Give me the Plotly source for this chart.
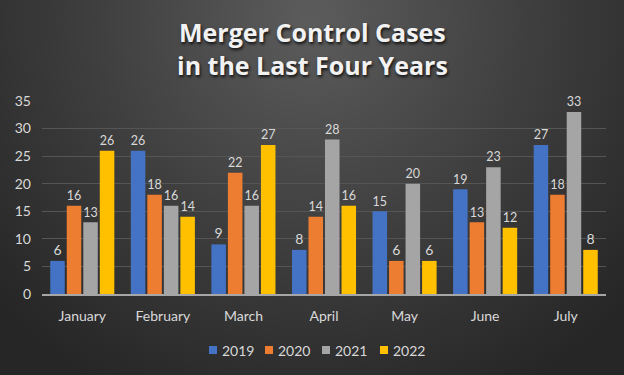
import base64
import plotly.graph_objects as go

months = ["January", "February", "March", "April", "May", "June", "July"]
years = ["2019", "2020", "2021", "2022"]
cases_2019 = [6, 26, 9, 8, 15, 19, 27]
cases_2020 = [16, 18, 22, 14, 6, 13, 18]
cases_2021 = [13, 16, 16, 28, 20, 23, 33]
cases_2022 = [26, 14, 27, 16, 6, 12, 8]
y_ticks = [0, 5, 10, 15, 20, 25, 30, 35]
title_lines = ["Merger Control Cases", "in the Last Four Years"]

series = [cases_2019, cases_2020, cases_2021, cases_2022]
colors = ["#4472C4", "#ED7D31", "#A5A5A5", "#FFC000"]

W, H = 624, 375
L, R, T, B = 42, 18, 101, 81
pw, ph = W - L - R, H - T - B


def py(px_from_top):
    return (H - B - px_from_top) / ph


svg = (
    '<svg xmlns="http://www.w3.org/2000/svg" width="624" height="375" viewBox="0 0 624 375" preserveAspectRatio="none">'
    '<defs><radialGradient id="g" cx="312" cy="20" r="420" gradientUnits="userSpaceOnUse">'
    '<stop offset="0" stop-color="#5c5c5c"/><stop offset="0.55" stop-color="#3d3d3d"/>'
    '<stop offset="1" stop-color="#262626"/></radialGradient></defs>'
    '<rect width="624" height="375" fill="url(#g)"/></svg>'
)
src = "data:image/svg+xml;base64," + base64.b64encode(svg.encode()).decode()

fig = go.Figure()
for name, vals, col in zip(years, series, colors):
    fig.add_trace(go.Bar(
        x=months, y=vals, name=name, marker=dict(color=col, line=dict(width=0)),
        text=vals, textposition="outside", cliponaxis=False,
        textfont=dict(color="#d9d9d9", size=14, family="Lato"),
        showlegend=False,
    ))

shapes = []
annotations = []

# title (two lines in one text)
annotations.append(dict(text="<b>" + "<br>".join(title_lines) + "</b>",
                        xref="paper", yref="paper",
                        x=(W / 2 - L) / pw, y=py(49), xanchor="center", yanchor="middle",
                        showarrow=False,
                        font=dict(family="Open Sans", size=25, color="#f2f2f2",
                                  shadow="1px 2px 3px #111111")))

# custom compact legend (swatch + label)
legend_px = [209, 265, 322, 380]
legend_y = 350
for name, col, px in zip(years, colors, legend_px):
    yc = py(legend_y)
    shapes.append(dict(type="rect", xref="paper", yref="paper",
                       x0=(px - L) / pw, x1=(px + 8 - L) / pw,
                       y0=yc - 4 / ph, y1=yc + 4 / ph,
                       fillcolor=col, line=dict(width=0)))
    annotations.append(dict(text=name, xref="paper", yref="paper",
                            x=(px + 11 - L) / pw, y=yc, xanchor="left", yanchor="middle",
                            showarrow=False, font=dict(family="Lato", size=14, color="#d9d9d9")))

fig.update_layout(
    width=W, height=H,
    margin=dict(l=L, r=R, t=T, b=B),
    paper_bgcolor="#3a3a3a", plot_bgcolor="rgba(0,0,0,0)",
    barmode="group", bargap=0.18, bargroupgap=0.12,
    font=dict(family="Lato", color="#d9d9d9", size=14),
    xaxis=dict(showgrid=False, showline=True, linecolor="#a6a6a6", linewidth=1.5,
               ticks="", ticklabelstandoff=8, tickfont=dict(size=14, color="#d9d9d9")),
    yaxis=dict(range=[0, 35], tickvals=y_ticks, showgrid=True, gridcolor="#555555",
               gridwidth=1, zeroline=False, showline=False, ticks="",
               ticklabelstandoff=10, tickfont=dict(size=14, color="#d9d9d9")),
    shapes=shapes,
    annotations=annotations,
    images=[dict(source=src, xref="paper", yref="paper",
                 x=-L / pw, y=1 + T / ph, sizex=W / pw, sizey=H / ph,
                 xanchor="left", yanchor="top", sizing="stretch", layer="below")],
)

fig.write_html("out.html", config={"displayModeBar": False},
               post_script="document.body.style.margin='0';")
